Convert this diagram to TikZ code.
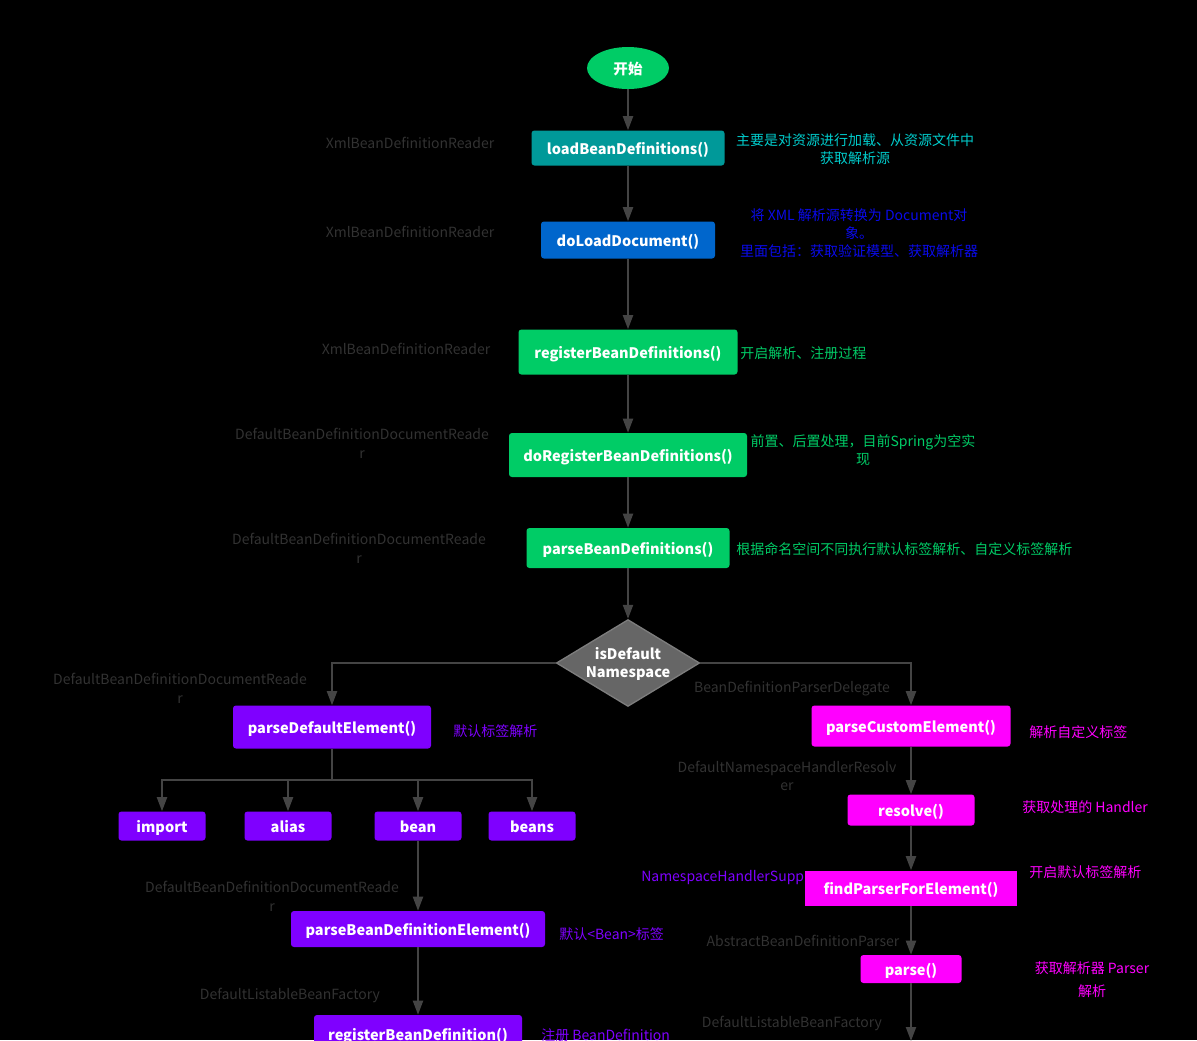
\documentclass[tikz,border=0pt]{standalone}
\usepackage{fontspec}
\setmainfont{Noto Sans CJK SC}
\usetikzlibrary{arrows.meta,shapes.geometric}
\definecolor{cgreen}{RGB}{0,204,102}
\definecolor{cteal}{RGB}{0,153,153}
\definecolor{cblue}{RGB}{0,102,204}
\definecolor{cpurple}{RGB}{127,0,255}
\definecolor{cmag}{RGB}{255,0,255}
\definecolor{cdia}{RGB}{102,102,102}
\definecolor{cdiaedge}{RGB}{125,125,125}
\definecolor{cedge}{RGB}{68,68,68}
\definecolor{ccls}{RGB}{50,50,50}
\definecolor{ccyan}{RGB}{0,204,204}
\definecolor{cnblue}{RGB}{10,10,235}
\begin{document}
\begin{tikzpicture}[x=0.75pt,y=-0.75pt,
  bx/.style 2 args={minimum width=#1*0.75pt, minimum height=#2*0.75pt},
  proc/.style={rectangle, rounded corners=2.2pt, inner sep=0pt, text=white,
    text height=11.3pt, text depth=1.1pt,
    font=\fontsize{10.9}{13}\selectfont\bfseries},
  sharp/.style={rectangle, inner sep=0pt, text=white,
    text height=11.3pt, text depth=1.1pt,
    font=\fontsize{10.9}{13}\selectfont\bfseries},
  cls/.style={text=ccls, align=center, inner sep=0pt,
    font=\fontsize{10.5}{14}\selectfont},
  note/.style={align=center, inner sep=0pt,
    font=\fontsize{10.5}{13.5}\selectfont},
  arr/.style={draw=cedge, line width=1.5pt,
    -{Triangle[width=7.5pt,length=10.5pt]}},
  ln/.style={draw=cedge, line width=1.5pt}
]
\useasboundingbox (0,0) rectangle (1197,1040);
\fill[black] (0,0) rectangle (1197,1040);
\clip (0,0) rectangle (1197,1040);

% main column
\node[ellipse, fill=cgreen, bx={82}{42}, inner sep=0pt, text=white,
  text height=11.3pt, text depth=1.1pt,
  font=\fontsize{10.9}{13}\selectfont\bfseries] (start) at (628,68) {开始};
\node[proc, fill=cteal, bx={193}{35}] (load) at (628,148) {loadBeanDefinitions()};
\node[proc, fill=cblue, bx={174}{37}] (doload) at (628,240) {doLoadDocument()};
\node[proc, fill=cgreen, bx={219}{45}] (reg) at (628,352) {registerBeanDefinitions()};
\node[proc, fill=cgreen, bx={238}{44}] (doreg) at (628,455) {doRegisterBeanDefinitions()};
\node[proc, fill=cgreen, bx={203}{40}] (pbd) at (628,548) {parseBeanDefinitions()};
\node[diamond, fill=cdia, draw=cdiaedge, line width=1pt, aspect=1.65, inner sep=0pt,
  bx={140}{85}, text=white, align=center,
  font=\fontsize{10.9}{13.5}\selectfont\bfseries] (dia) at (628,663) {\rule{0pt}{11pt}isDefault\\Namespace};

% left branch
\node[proc, fill=cpurple, bx={198}{43}] (pde) at (332,727) {parseDefaultElement()};
\node[proc, fill=cpurple, bx={87}{29}] (imp) at (162,826) {import};
\node[proc, fill=cpurple, bx={87}{29}] (ali) at (288,826) {alias};
\node[proc, fill=cpurple, bx={87}{29}] (bean) at (418,826) {bean};
\node[proc, fill=cpurple, bx={87}{29}] (beans) at (532,826) {beans};
\node[proc, fill=cpurple, bx={254}{36}] (pbde) at (418,929) {parseBeanDefinitionElement()};
\node[proc, fill=cpurple, bx={208}{38}] (rbd) at (418,1034) {registerBeanDefinition()};
\coordinate (bj) at (332,780);

% right branch
\node[proc, fill=cmag, bx={199}{41}] (pce) at (911,726) {parseCustomElement()};
\node[proc, fill=cmag, bx={127}{31}] (res) at (911,810) {resolve()};
\node[cls, text=cpurple, anchor=west] (nhs) at (641,878) {NamespaceHandlerSupp};
\node[sharp, fill=cmag, bx={212}{35}] (fpe) at (911,888) {findParserForElement()};
\node[proc, fill=cmag, bx={101}{28}] (prs) at (911,969) {parse()};
\coordinate (rend) at (911,1041);

% connectors
\draw[arr] (start) -- (load);
\draw[arr] (load) -- (doload);
\draw[arr] (doload) -- (reg);
\draw[arr] (reg) -- (doreg);
\draw[arr] (doreg) -- (pbd);
\draw[arr] (pbd) -- (dia);
\draw[arr] (dia.west) -| (pde.north);
\draw[arr] (dia.east) -| (pce.north);
\draw[ln] (pde.south) -- (bj);
\draw[arr] (bj) -| (imp.north);
\draw[arr] (bj) -| (ali.north);
\draw[arr] (bj) -| (bean.north);
\draw[arr] (bj) -| (beans.north);
\draw[arr] (bean) -- (pbde);
\draw[arr] (pbde) -- (rbd);
\draw[arr] (pce) -- (res);
\draw[arr] (res) -- (fpe);
\draw[arr] (fpe) -- (prs);
\draw[arr] (prs) -- (rend);

% class labels
\node[cls] (c1) at (410,143) {XmlBeanDefinitionReader};
\node[cls] (c2) at (410,232) {XmlBeanDefinitionReader};
\node[cls] (c3) at (406,349) {XmlBeanDefinitionReader};
\node[cls] (c4) at (362,443) {DefaultBeanDefinitionDocumentReade\\r};
\node[cls] (c5) at (359,548) {DefaultBeanDefinitionDocumentReade\\r};
\node[cls] (c6) at (180,688) {DefaultBeanDefinitionDocumentReade\\r};
\node[cls] (c7) at (792,689) {BeanDefinitionParserDelegate};
\node[cls] (c8) at (787,776) {DefaultNamespaceHandlerResolv\\er};
\node[cls] (c9) at (272,896) {DefaultBeanDefinitionDocumentReade\\r};
\node[cls] (c10) at (803,941) {AbstractBeanDefinitionParser};
\node[cls] (c11) at (290,995) {DefaultListableBeanFactory};
\node[cls] (c12) at (792,1023) {DefaultListableBeanFactory};

% notes
\node[note, text=ccyan] (n1) at (855,149) {主要是对资源进行加载、从资源文件中\\获取解析源};
\node[note, text=cnblue] (n2) at (859,233) {将 XML 解析源转换为 Document对\\象。\\里面包括：获取验证模型、获取解析器};
\node[note, text=cgreen, anchor=west] (n3) at (740,353) {开启解析、注册过程};
\node[note, text=cgreen] (n4) at (863,450) {前置、后置处理，目前Spring为空实\\现};
\node[note, text=cgreen, anchor=west] (n5) at (736,549) {根据命名空间不同执行默认标签解析、自定义标签解析};
\node[note, text=cpurple, anchor=west] (n6) at (453,731) {默认标签解析};
\node[note, text=cmag, anchor=west] (n7) at (1029,732) {解析自定义标签};
\node[note, text=cmag, anchor=west] (n8) at (1022,807) {获取处理的 Handler};
\node[note, text=cmag, anchor=west] (n9) at (1029,872) {开启默认标签解析};
\node[note, text=cmag] (n10) at (1092,980) {获取解析器 Parser\\[4pt]解析};
\node[note, text=cpurple, anchor=west] (n11) at (559,934) {默认<Bean>标签};
\node[note, text=cpurple, anchor=west] (n12) at (541,1035) {注册 BeanDefinition};
\end{tikzpicture}
\end{document}
